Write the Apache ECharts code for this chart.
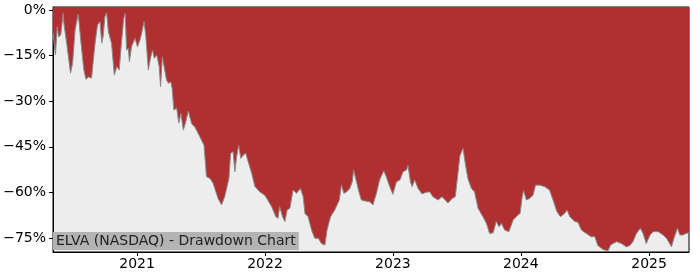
<!DOCTYPE html>
<html>
<head>
<meta charset="utf-8">
<script src="https://cdn.jsdelivr.net/npm/echarts@6/dist/echarts.min.js"></script>
<style>html,body{margin:0;padding:0;background:#fff}#c{width:700px;height:280px}</style>
</head>
<body>
<div id="c"></div>
<script>
const dates = [
'2020-05-06','2020-05-09','2020-05-13','2020-05-18','2020-05-22','2020-05-28','2020-06-04','2020-06-06','2020-06-14','2020-06-25','2020-07-01','2020-07-08','2020-07-17','2020-07-20','2020-07-25','2020-08-02','2020-08-08','2020-08-15','2020-08-24','2020-09-03','2020-09-10','2020-09-17','2020-09-22','2020-09-26','2020-10-01','2020-10-06','2020-10-11','2020-10-20','2020-10-28','2020-11-04','2020-11-11','2020-11-18','2020-11-24','2020-11-28','2020-12-02','2020-12-07','2020-12-10','2020-12-16','2020-12-26',
'2021-01-02','2021-01-09','2021-01-14','2021-01-21','2021-01-26','2021-02-02','2021-02-09','2021-02-14','2021-02-19','2021-02-26','2021-03-05','2021-03-09','2021-03-14','2021-03-19','2021-03-26','2021-03-31','2021-04-07','2021-04-11','2021-04-16','2021-04-24','2021-04-30','2021-05-06','2021-05-13','2021-05-20','2021-05-27','2021-06-06','2021-06-15','2021-06-24','2021-06-29','2021-07-11','2021-07-18','2021-07-28','2021-08-06','2021-08-20','2021-08-30','2021-09-08','2021-09-20','2021-09-25','2021-10-02','2021-10-07','2021-10-12','2021-10-18','2021-10-24','2021-10-31','2021-11-07','2021-11-14','2021-11-24','2021-12-03','2021-12-17',
'2022-01-01','2022-01-05','2022-01-20','2022-02-01','2022-02-07','2022-02-12','2022-02-20','2022-02-27','2022-03-05','2022-03-13','2022-03-22','2022-04-01','2022-04-12','2022-04-20','2022-04-25','2022-05-04','2022-05-14','2022-05-23','2022-06-02','2022-06-11','2022-06-21','2022-06-27','2022-07-07','2022-07-19','2022-08-01','2022-08-07','2022-08-14','2022-08-22','2022-08-31','2022-09-07','2022-09-11','2022-09-19','2022-09-26','2022-10-03','2022-10-13','2022-10-27','2022-11-05','2022-11-15','2022-11-24','2022-12-06','2022-12-13','2022-12-18','2022-12-23',
'2023-01-01','2023-01-11','2023-01-21','2023-01-30','2023-02-09','2023-02-13','2023-02-20','2023-02-25','2023-03-04','2023-03-14','2023-03-25','2023-04-05','2023-04-16','2023-04-25','2023-05-10','2023-05-21','2023-05-29','2023-06-07','2023-06-19','2023-06-28','2023-07-04','2023-07-11','2023-07-20','2023-07-28','2023-08-03','2023-08-13','2023-08-22','2023-09-01','2023-09-15','2023-09-25','2023-10-04','2023-10-14','2023-10-23','2023-10-31','2023-11-07','2023-11-16','2023-11-28','2023-12-10','2023-12-24','2023-12-30',
'2024-01-05','2024-01-09','2024-01-17','2024-01-26','2024-02-05','2024-02-12','2024-02-24','2024-03-09','2024-03-23','2024-04-02','2024-04-13','2024-04-23','2024-05-05','2024-05-12','2024-05-20','2024-06-03','2024-06-12','2024-06-22','2024-07-06','2024-07-20','2024-07-30','2024-08-08','2024-08-23','2024-09-06','2024-09-13','2024-09-30','2024-10-14','2024-10-28','2024-11-07','2024-11-16','2024-11-26','2024-12-07','2024-12-15','2024-12-24',
'2025-01-04','2025-01-13','2025-01-27','2025-02-10','2025-02-20','2025-03-06','2025-03-13','2025-03-23','2025-03-30','2025-04-08','2025-04-16','2025-04-25'
];
const drawdown = [
-7.5,-7.1,-14.8,-5.5,-8.8,-8.2,-1.1,-4.3,-10.9,-20.8,-17.5,-6.6,-1.3,-1.5,-10.9,-19.7,-22.8,-22.0,-22.4,-10.9,-4.9,-3.8,-10.9,-8.8,-2.2,-0.9,-7.1,-10.9,-21.4,-18.6,-19.7,-9.9,-2.7,-1.1,-13.2,-12.5,-17.0,-12.1,-9.3,
-12.1,-9.9,-7.6,-3.8,-8.8,-19.7,-15.4,-13.2,-15.9,-14.8,-18.6,-25.2,-15.4,-15.4,-23.0,-24.1,-23.6,-25.8,-32.9,-32.3,-37.2,-34.0,-39.5,-36.7,-33.2,-37.5,-38.5,-40.5,-41.7,-44.5,-54.8,-55.4,-57.0,-62.0,-64.1,-61.4,-55.4,-47.1,-46.6,-53.2,-48.2,-44.5,-48.8,-47.7,-47.1,-49.9,-53.7,-58.0,-59.8,
-61.0,-61.4,-64.7,-68.0,-68.5,-64.7,-68.0,-69.6,-65.8,-65.2,-59.2,-60.3,-58.7,-61.4,-66.9,-68.0,-72.4,-75.1,-75.1,-76.8,-77.3,-72.4,-68.0,-65.8,-62.5,-57.6,-60.3,-59.8,-58.7,-56.5,-52.6,-56.5,-59.8,-62.5,-62.8,-63.1,-64.1,-60.3,-55.9,-52.9,-54.8,-56.5,-58.1,
-60.6,-56.5,-55.9,-53.2,-52.6,-51.1,-56.5,-58.1,-55.9,-58.7,-60.5,-60.0,-59.8,-61.4,-62.5,-61.4,-62.3,-63.5,-62.0,-61.4,-55.4,-48.0,-45.5,-51.5,-55.4,-58.7,-59.8,-65.2,-68.0,-70.2,-73.5,-73.3,-69.6,-71.3,-70.2,-72.4,-72.9,-69.1,-67.4,-66.9,
-61.4,-59.4,-62.5,-62.0,-60.9,-57.6,-57.6,-58.1,-59.2,-62.5,-66.3,-68.0,-66.9,-65.8,-68.0,-69.6,-69.8,-72.4,-73.5,-74.6,-74.5,-77.5,-78.8,-79.2,-77.3,-76.2,-76.8,-77.9,-77.5,-76.2,-73.5,-71.8,-73.5,-76.8,
-74.0,-72.9,-72.9,-74.0,-75.1,-77.9,-75.1,-71.8,-74.0,-74.0,-73.5,-73.3
];
const yTicks = [0, -15, -30, -45, -60, -75];
const xTicks = ['2021-01-01','2022-01-01','2023-01-01','2024-01-01','2025-01-01'];
const titleText = 'ELVA (NASDAQ) - Drawdown Chart';

const ts = d => Date.parse(d + 'T00:00:00Z');
const chart = echarts.init(document.getElementById('c'), null, {renderer: 'canvas'});
const xTickTs = xTicks.map(ts);
const seriesData = dates.map((d, i) => [ts(d), drawdown[i]]);
const font = 'DejaVu Sans';
chart.setOption({
  animation: false,
  grid: {left: 53, right: 11, top: 7, bottom: 28, show: true, backgroundColor: '#ededed', borderColor: '#000', borderWidth: 1},
  xAxis: {
    type: 'value',
    min: ts('2020-05-06'), max: ts('2025-04-25'),
    splitLine: {show: false},
    axisLine: {show: true, onZero: false, lineStyle: {color: '#000', width: 1}},
    axisTick: {show: true, length: 4, lineStyle: {color: '#000'}, customValues: xTickTs},
    axisLabel: {customValues: xTickTs, color: '#000', fontFamily: font, fontSize: 14, margin: 5,
      formatter: v => String(new Date(v).getUTCFullYear())}
  },
  yAxis: {
    type: 'value',
    min: -79.6, max: 1,
    splitLine: {show: false},
    axisLine: {show: true, lineStyle: {color: '#000', width: 1}},
    axisTick: {show: true, length: 4, lineStyle: {color: '#000'}, customValues: yTicks},
    axisLabel: {customValues: yTicks, color: '#000', fontFamily: font, fontSize: 14, margin: 7,
      formatter: v => (v < 0 ? '\u2212' + Math.abs(v) : String(v)) + '%'}
  },
  series: [{
    type: 'line',
    data: seriesData,
    symbol: 'none',
    lineStyle: {color: '#8a8a8a', width: 1},
    areaStyle: {color: '#b03031', opacity: 1, origin: 'end'},
    z: 2
  }],
  graphic: [{
    type: 'text',
    left: 53, top: 232,
    z: 10,
    style: {
      text: titleText,
      font: '14px "DejaVu Sans"',
      fill: '#222',
      backgroundColor: '#b3b3b3',
      padding: [2, 3, 2, 3]
    }
  }]
});
</script>
</body>
</html>
